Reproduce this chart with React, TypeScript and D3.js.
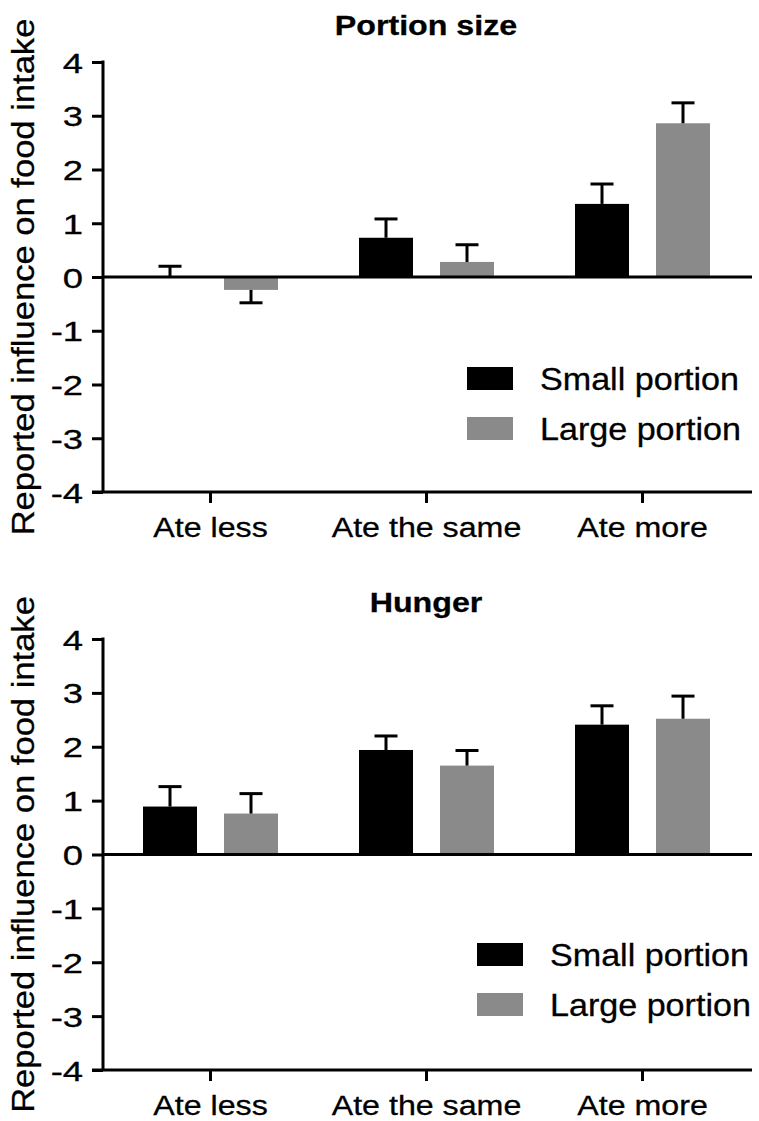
import { useEffect, useRef } from 'react';
import * as d3 from 'd3';

const categories = ['Ate less', 'Ate the same', 'Ate more'];
const seriesNames = ['Small portion', 'Large portion'];
const yTicks = [-4, -3, -2, -1, 0, 1, 2, 3, 4];

const portionSmall = [0.0, 0.73, 1.36];
const portionSmallErr = [0.2, 0.35, 0.37];
const portionLarge = [-0.24, 0.28, 2.86];
const portionLargeErr = [0.24, 0.32, 0.38];

const hungerSmall = [0.89, 1.94, 2.41];
const hungerSmallErr = [0.37, 0.26, 0.35];
const hungerLarge = [0.76, 1.65, 2.52];
const hungerLargeErr = [0.37, 0.28, 0.42];

const colors = ['#000000', '#8a8a8a'];
const FONT = "'Liberation Sans', Arial, Helvetica, sans-serif";

type Panel = {
  title: string;
  values: number[][];
  errors: number[][];
  top: number;
  bottom: number;
  legendX: number;
  legendY: number;
};

const panels: Panel[] = [
  {
    title: 'Portion size',
    values: [portionSmall, portionLarge],
    errors: [portionSmallErr, portionLargeErr],
    top: 62,
    bottom: 492,
    legendX: 467,
    legendY: 367,
  },
  {
    title: 'Hunger',
    values: [hungerSmall, hungerLarge],
    errors: [hungerSmallErr, hungerLargeErr],
    top: 639,
    bottom: 1070,
    legendX: 477,
    legendY: 943,
  },
];

const W = 759;
const H = 1121;

const App = () => {
  const ref = useRef<SVGSVGElement | null>(null);

  useEffect(() => {
    if (!ref.current) return;
    const svg = d3.select(ref.current);
    svg.selectAll('*').remove();

    const axisX = 103;
    const right = 752;

    const xScale = d3.scaleBand().domain(categories).range([102.5, 750.5]).padding(0);
    const inner = d3
      .scaleBand()
      .domain(seriesNames)
      .range([0, xScale.bandwidth()])
      .paddingInner(1 / 3)
      .paddingOuter(0.5);

    // stretched text helper (reference font is wider than Arial)
    const addText = (
      g: d3.Selection<SVGGElement, unknown, null, undefined>,
      txt: string,
      x: number,
      y: number,
      size: number,
      sx: number,
      anchor: string,
      extra = '',
      weight = 'normal',
    ) =>
      g
        .append('text')
        .attr('transform', `translate(${x},${y}) ${extra} scale(${sx},1)`)
        .attr('text-anchor', anchor)
        .attr('font-family', FONT)
        .attr('font-size', size)
        .attr('font-weight', weight)
        .attr('fill', '#000')
        .attr('stroke', '#000')
        .attr('stroke-width', 0.3)
        .text(txt);

    panels.forEach((panel) => {
      const g = svg.append('g');
      const yScale = d3.scaleLinear().domain([-4, 4]).range([panel.bottom, panel.top]);

      // title
      addText(g, panel.title, 426, panel.top - 27, 28, 1.15, 'middle', '', 'bold');

      // y axis label
      addText(
        g,
        'Reported influence on food intake',
        34,
        (panel.top + panel.bottom) / 2,
        32,
        1.08,
        'middle',
        'rotate(-90)',
      );

      // bars
      seriesNames.forEach((name, si) => {
        const vals = panel.values[si];
        const errs = panel.errors[si];
        const bg = g.append('g');
        bg.selectAll('rect')
          .data(vals)
          .enter()
          .append('rect')
          .attr('x', (_, i) => (xScale(categories[i]) ?? 0) + (inner(name) ?? 0))
          .attr('y', (v) => yScale(Math.max(0, v)))
          .attr('width', inner.bandwidth())
          .attr('height', (v) => Math.abs(yScale(v) - yScale(0)))
          .attr('fill', colors[si]);

        const eg = g.append('g').attr('stroke', '#000').attr('stroke-width', 3);
        vals.forEach((v, i) => {
          const cx = (xScale(categories[i]) ?? 0) + (inner(name) ?? 0) + inner.bandwidth() / 2;
          const end = v < 0 ? v - errs[i] : v + errs[i];
          eg.append('line')
            .attr('x1', cx)
            .attr('x2', cx)
            .attr('y1', yScale(v))
            .attr('y2', yScale(end));
          eg.append('line')
            .attr('x1', cx - 11.5)
            .attr('x2', cx + 11.5)
            .attr('y1', yScale(end))
            .attr('y2', yScale(end));
        });
      });

      // y axis ticks
      const yAxis = g
        .append('g')
        .attr('transform', `translate(${axisX},0)`)
        .call(d3.axisLeft(yScale).tickValues(yTicks).tickSize(11).tickSizeOuter(0).tickFormat((d) => String(d)));
      yAxis.select('.domain').remove();
      yAxis.selectAll('line').attr('stroke', '#000').attr('stroke-width', 3);
      yAxis
        .selectAll('text')
        .attr('x', 0)
        .attr('dy', null)
        .attr('transform', 'translate(-20,10) scale(1.3,1)')
        .attr('font-family', FONT)
        .attr('font-size', 28)
        .attr('fill', '#000')
        .attr('stroke', '#000')
        .attr('stroke-width', 0.3);

      // x axis ticks
      const xAxis = g
        .append('g')
        .attr('transform', `translate(0,${panel.bottom})`)
        .call(d3.axisBottom(xScale).tickSize(11).tickSizeOuter(0));
      xAxis.select('.domain').remove();
      xAxis.selectAll('line').attr('stroke', '#000').attr('stroke-width', 3);
      xAxis.selectAll('text').remove();
      categories.forEach((c) => {
        addText(g, c, (xScale(c) ?? 0) + xScale.bandwidth() / 2, panel.bottom + 45, 28, 1.15, 'middle');
      });

      // axis lines
      const lines = g.append('g').attr('stroke', '#000').attr('stroke-width', 3);
      lines.append('line')
        .attr('x1', axisX).attr('x2', axisX)
        .attr('y1', yScale(4) - 1.5).attr('y2', yScale(-4));
      lines.append('line')
        .attr('x1', axisX - 11).attr('x2', right)
        .attr('y1', yScale(-4)).attr('y2', yScale(-4));
      lines.append('line')
        .attr('x1', axisX).attr('x2', right)
        .attr('y1', yScale(0)).attr('y2', yScale(0));

      // legend
      seriesNames.forEach((name, si) => {
        const ly = panel.legendY + si * 50;
        g.append('rect')
          .attr('x', panel.legendX)
          .attr('y', ly)
          .attr('width', 46)
          .attr('height', 23)
          .attr('fill', colors[si]);
        addText(g, name, panel.legendX + 73, ly + 23, 31, 1.1, 'start');
      });
    });
  }, []);

  return (
    <svg
      ref={ref}
      width={W}
      height={H}
      viewBox={`0 0 ${W} ${H}`}
      style={{ position: 'absolute', left: 0, top: 0, background: '#fff' }}
      role="img"
      aria-label="Reported influence on food intake bar charts"
    />
  );
};

export default App;
